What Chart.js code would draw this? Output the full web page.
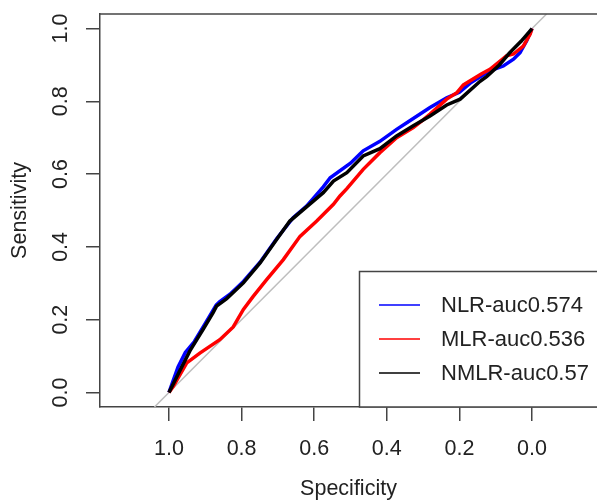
<!DOCTYPE html>
<html>
<head>
<meta charset="utf-8">
<script src="https://cdn.jsdelivr.net/npm/chart.js@4.4.1/dist/chart.umd.min.js"></script>
<style>
html, body { margin: 0; padding: 0; background: #fff; overflow: hidden; }
</style>
</head>
<body>
<canvas id="roc" width="597" height="502"></canvas>
<script>
// ROC curves, x = specificity (reversed axis), y = sensitivity
var seriesNames = ["NLR-auc0.574", "MLR-auc0.536", "NMLR-auc0.57"];
var seriesColors = ["#0000ff", "#ff0000", "#000000"];
var tickValues = [0, 0.2, 0.4, 0.6, 0.8, 1.0];

var nlrSpec = [1.0, 0.975, 0.955, 0.93, 0.9, 0.87, 0.86, 0.832, 0.795, 0.749, 0.703, 0.658, 0.621, 0.575, 0.556, 0.5, 0.474, 0.465, 0.419, 0.373, 0.345, 0.281, 0.235, 0.2, 0.17, 0.116, 0.079, 0.051, 0.033, 0.015, 0.0];
var nlrSens = [0, 0.07, 0.11, 0.14, 0.19, 0.24, 0.25, 0.27, 0.305, 0.358, 0.423, 0.48, 0.512, 0.565, 0.59, 0.63, 0.655, 0.664, 0.69, 0.723, 0.741, 0.783, 0.81, 0.825, 0.85, 0.884, 0.897, 0.916, 0.934, 0.966, 1.0];

var mlrSpec = [1.0, 0.988, 0.951, 0.915, 0.86, 0.823, 0.795, 0.768, 0.731, 0.685, 0.639, 0.593, 0.547, 0.529, 0.51, 0.465, 0.419, 0.373, 0.327, 0.299, 0.281, 0.235, 0.207, 0.189, 0.14, 0.116, 0.07, 0.051, 0.024, 0.005, 0.0];
var mlrSens = [0, 0.017, 0.081, 0.108, 0.145, 0.18, 0.228, 0.264, 0.31, 0.365, 0.429, 0.471, 0.517, 0.54, 0.56, 0.613, 0.659, 0.7, 0.728, 0.75, 0.765, 0.806, 0.824, 0.845, 0.875, 0.888, 0.925, 0.93, 0.952, 0.985, 1.0];

var nmlrSpec = [1.0, 0.97, 0.942, 0.905, 0.878, 0.869, 0.841, 0.795, 0.749, 0.703, 0.667, 0.621, 0.575, 0.547, 0.51, 0.465, 0.419, 0.373, 0.327, 0.281, 0.235, 0.198, 0.143, 0.125, 0.09, 0.061, 0.03, 0.0];
var nmlrSens = [0, 0.06, 0.115, 0.175, 0.22, 0.237, 0.258, 0.301, 0.356, 0.421, 0.471, 0.51, 0.549, 0.581, 0.604, 0.65, 0.67, 0.705, 0.733, 0.76, 0.79, 0.806, 0.855, 0.868, 0.9, 0.934, 0.965, 1.0];

var diagSpec = [1.04, -0.04];
var diagSens = [-0.04, 1.04];

function pairs(xs, ys) {
  return xs.map(function (x, i) { return { x: x, y: ys[i] }; });
}

var fontFam = "'Liberation Sans', Arial, Helvetica, sans-serif";
var txtColor = "#222";
var axisColor = "#444";

Chart.defaults.font.family = fontFam;
Chart.defaults.color = txtColor;

function fixedTicks(scale) {
  scale.ticks = tickValues.map(function (v) { return { value: v }; });
}

var rocLegend = {
  id: "rocLegend",
  afterDraw: function (chart) {
    var ctx = chart.ctx;
    var area = chart.chartArea;
    ctx.save();
    // top of the plot box
    ctx.strokeStyle = axisColor;
    ctx.lineWidth = 1.5;
    ctx.beginPath();
    ctx.moveTo(area.left, area.top);
    ctx.lineTo(chart.width + 5, area.top);
    ctx.stroke();

    // legend box
    var bx = 359.5, by = 271.5;
    ctx.fillStyle = "#fff";
    ctx.fillRect(bx, by, chart.width - bx + 5, area.bottom - by);
    ctx.strokeRect(bx, by, chart.width - bx + 5, area.bottom - by);

    ctx.font = "22px " + fontFam;
    ctx.textBaseline = "middle";
    ctx.textAlign = "left";
    seriesNames.forEach(function (name, i) {
      var y = 305 + i * 34;
      ctx.strokeStyle = seriesColors[i];
      ctx.lineWidth = 1.5;
      ctx.beginPath();
      ctx.moveTo(379, y);
      ctx.lineTo(420, y);
      ctx.stroke();
      ctx.fillStyle = txtColor;
      ctx.fillText(name, 441, y + 1);
    });
    ctx.restore();
  }
};

var ctx = document.getElementById("roc").getContext("2d");
new Chart(ctx, {
  type: "line",
  data: {
    datasets: [
      { label: seriesNames[2], data: pairs(nmlrSpec, nmlrSens), borderColor: seriesColors[2], borderWidth: 3.5, order: 0 },
      { label: seriesNames[1], data: pairs(mlrSpec, mlrSens), borderColor: seriesColors[1], borderWidth: 3.5, order: 1 },
      { label: seriesNames[0], data: pairs(nlrSpec, nlrSens), borderColor: seriesColors[0], borderWidth: 3.5, order: 2 },
      { label: "diag", data: pairs(diagSpec, diagSens), borderColor: "#bebebe", borderWidth: 1.5, order: 3 }
    ]
  },
  options: {
    responsive: false,
    animation: false,
    elements: { point: { radius: 0 }, line: { tension: 0, fill: false } },
    layout: { padding: { top: 14, right: 0, bottom: 0, left: 0 } },
    plugins: { legend: { display: false }, tooltip: { enabled: false } },
    scales: {
      x: {
        type: "linear",
        reverse: true,
        min: -0.179,
        max: 1.19,
        afterBuildTicks: fixedTicks,
        afterFit: function (s) { s.height = 95; s.paddingLeft = 0; s.paddingRight = 0; },
        ticks: {
          callback: function (v) { return v.toFixed(1); },
          font: { size: 21.5 },
          color: txtColor,
          padding: 15,
          autoSkip: false,
          maxRotation: 0
        },
        grid: { drawOnChartArea: false, drawTicks: true, tickLength: 14, color: axisColor, lineWidth: 1.5 },
        border: { display: true, color: axisColor, width: 1.5 },
        title: { display: true, text: "Specificity", font: { size: 21.5 }, color: txtColor, padding: { top: 0, bottom: 0 } }
      },
      y: {
        type: "linear",
        min: -0.04,
        max: 1.04,
        afterBuildTicks: fixedTicks,
        afterFit: function (s) { s.width = 100; s.paddingTop = 0; s.paddingBottom = 0; },
        ticks: {
          callback: function (v) { return v.toFixed(1); },
          font: { size: 21.5 },
          color: txtColor,
          minRotation: 90,
          maxRotation: 90,
          crossAlign: "center",
          padding: 9.5
        },
        grid: { drawOnChartArea: false, drawTicks: true, tickLength: 14, color: axisColor, lineWidth: 1.5 },
        border: { display: true, color: axisColor, width: 1.5 },
        title: { display: true, text: "Sensitivity", font: { size: 21.5 }, color: txtColor, padding: { top: 7, bottom: 0 } }
      }
    }
  },
  plugins: [rocLegend]
});
</script>
</body>
</html>
